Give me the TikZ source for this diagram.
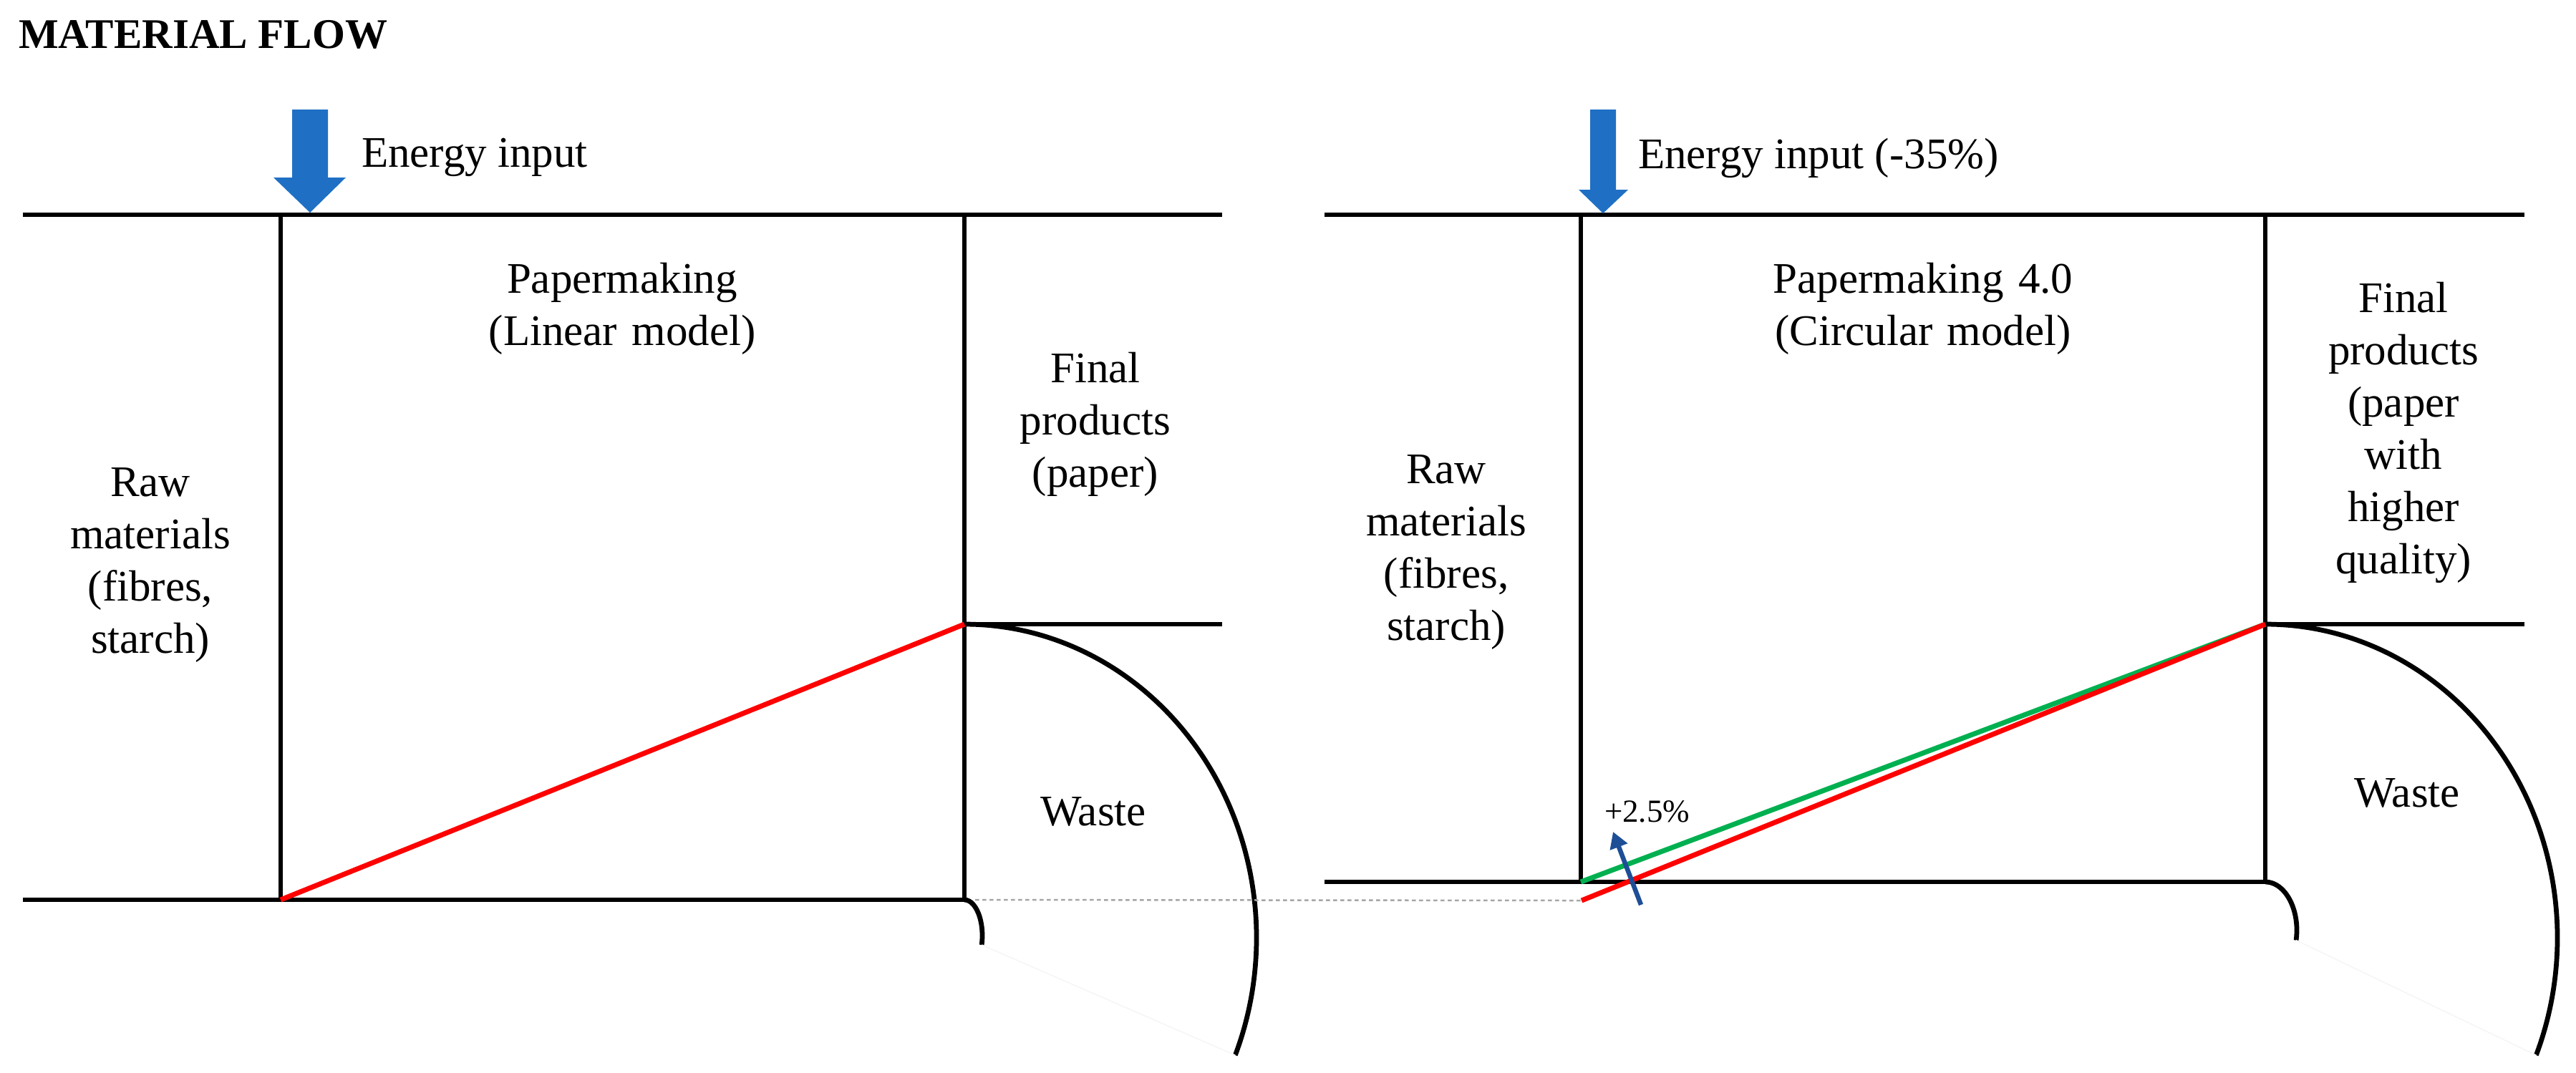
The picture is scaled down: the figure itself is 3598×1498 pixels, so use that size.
\documentclass[tikz,border=0pt]{standalone}
\usepackage{fontspec}
\setmainfont{Liberation Serif}
\usetikzlibrary{arrows.meta}
\definecolor{arrowblue}{RGB}{31,112,196}
\definecolor{darkblue}{RGB}{30,78,150}
\definecolor{flowgreen}{RGB}{0,176,80}
\definecolor{flowred}{RGB}{255,0,0}
\tikzset{
  wall/.style={line width=1.35pt, black},
  flowline/.style={line width=1.4pt},
  lbl/.style={font=\fontsize{12.2}{14.6}\selectfont, text width=140pt, align=center, inner sep=0pt, anchor=base},
  energy/.style={font=\fontsize{12.2}{14.6}\selectfont, inner sep=0pt, anchor=base west},
  blockarrow/.style={fill=arrowblue, draw=none},
  faint/.style={black!4, line width=0.3pt},
  dashline/.style={gray!70, line width=0.5pt, dash pattern=on 1.1pt off 0.9pt}
}
\begin{document}
\begin{tikzpicture}[x=0.2pt,y=-0.2pt]
\path[use as bounding box] (0,0) rectangle (3598,1498);

% ---------- title ----------
\node[font=\fontsize{11.8}{14}\selectfont\bfseries, inner sep=0pt, anchor=base west] (title) at (25,67) {MATERIAL FLOW};

% ---------- left panel ----------
\coordinate (L-tl) at (32,300);
\coordinate (L-tr) at (1707,300);
\coordinate (L-a) at (392,300);
\coordinate (L-b) at (392,1257);
\coordinate (L-c) at (1347,300);
\coordinate (L-d) at (1347,1257);
\coordinate (L-bl) at (32,1257);
\coordinate (L-m) at (1347,872);
\coordinate (L-mr) at (1707,872);

\draw[wall] (L-tl) -- (L-tr);
\draw[wall] (L-a) -- (L-b);
\draw[wall] (L-c) -- (L-d);
\draw[wall] (L-bl) -- (L-d);
\draw[wall] (L-m) -- (L-mr);
\draw[wall] (L-m) arc[start angle=90,end angle=-22,x radius=81.6pt,y radius=87.6pt] coordinate (L-bigend);
\draw[wall] (L-d) arc[start angle=90,end angle=-15,x radius=5pt,y radius=10pt] coordinate (L-smallend);
\draw[faint] (L-smallend) -- (L-bigend);
\draw[flowred, flowline] (L-b) -- (L-m);

\fill[blockarrow] (408,153) -- (458,153) -- (458,248) -- (483,248) -- (433,297) -- (382,248) -- (408,248) -- cycle;
\node[energy] (energyL) at (504,233) {Energy input};

\node[lbl] (paperL) at (869,409) {Papermaking\\(Linear model)};
\node[lbl] (rawL) at (210,693) {Raw\\materials\\(fibres,\\starch)};
\node[lbl] (finalL) at (1530,534) {Final\\products\\(paper)};
\node[lbl] (wasteL) at (1527,1153) {Waste};

% ---------- dashed link ----------
\coordinate (dash-s) at (1362,1257);
\coordinate (R-redstart) at (2209,1258);
\draw[dashline] (dash-s) -- (R-redstart);

% ---------- right panel ----------
\coordinate (R-tl) at (1850,300);
\coordinate (R-tr) at (3526,300);
\coordinate (R-a) at (2208,300);
\coordinate (R-b) at (2208,1232);
\coordinate (R-c) at (3164,300);
\coordinate (R-d) at (3164,1232);
\coordinate (R-bl) at (1850,1232);
\coordinate (R-m) at (3164,872);
\coordinate (R-mr) at (3526,872);

\draw[wall] (R-tl) -- (R-tr);
\draw[wall] (R-a) -- (R-b);
\draw[wall] (R-c) -- (R-d);
\draw[wall] (R-bl) -- (R-d);
\draw[wall] (R-m) -- (R-mr);
\draw[wall] (R-m) arc[start angle=90,end angle=-22,x radius=81.6pt,y radius=87.6pt] coordinate (R-bigend);
\draw[wall] (R-d) arc[start angle=90,end angle=-12,x radius=8.8pt,y radius=13.5pt] coordinate (R-smallend);
\draw[faint] (R-smallend) -- (R-bigend);
\draw[flowgreen, flowline] (R-b) -- (R-m);
\draw[flowred, flowline] (R-redstart) -- (R-m);

\coordinate (up-s) at (2292,1264);
\coordinate (up-e) at (2253,1162);
\draw[darkblue, line width=1.3pt, -{Triangle[length=4.5pt,width=5pt]}] (up-s) -- (up-e);
\node[font=\fontsize{9}{10}\selectfont, inner sep=0pt, anchor=base west] (plus) at (2240,1148) {+2.5\%};

\fill[blockarrow] (2221,153) -- (2257,153) -- (2257,265) -- (2274,265) -- (2239,298) -- (2205,265) -- (2221,265) -- cycle;
\node[energy] (energyR) at (2287,235) {Energy input (-35\%)};

\node[lbl] (paperR) at (2686,409) {Papermaking 4.0\\(Circular model)};
\node[lbl] (rawR) at (2020,675) {Raw\\materials\\(fibres,\\starch)};
\node[lbl] (finalR) at (3357,436) {Final\\products\\(paper\\with\\higher\\quality)};
\node[lbl] (wasteR) at (3362,1127) {Waste};
\end{tikzpicture}
\end{document}
